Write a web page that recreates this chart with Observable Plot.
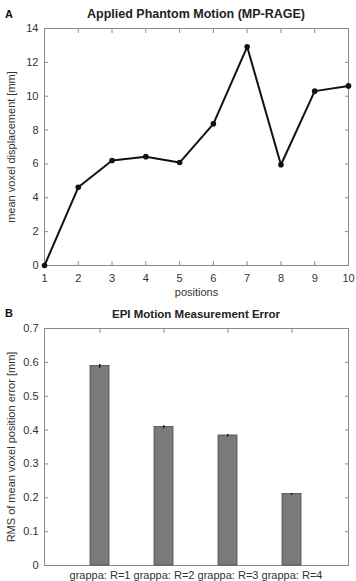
<!DOCTYPE html>
<html><head><meta charset="utf-8">
<script src="https://cdn.jsdelivr.net/npm/d3@7"></script>
<script src="https://cdn.jsdelivr.net/npm/@observablehq/plot@0.6"></script>
<style>
body{margin:0;background:#fff;font-family:"Liberation Sans",Arial,sans-serif;}
#wrap{position:relative;width:356px;height:581px;overflow:hidden;}
.panel{position:absolute;left:0;}
.lbl{position:absolute;font-weight:bold;font-size:11px;color:#111;}
.ttl{position:absolute;font-weight:bold;color:#222;text-align:center;}
</style></head>
<body><div id="wrap">
<div class="panel" id="a" style="top:0"></div>
<div class="panel" id="b" style="top:300px"></div>
<div class="lbl" style="left:5px;top:8px">A</div>
<div class="ttl" style="left:44px;width:304px;top:7px;font-size:12.5px">Applied Phantom Motion (MP-RAGE)</div>
<div class="lbl" style="left:5px;top:307px">B</div>
<div class="ttl" style="left:44px;width:304px;top:308px;font-size:11.5px">EPI Motion Measurement Error</div>
</div>
<script>
const positions = [1,2,3,4,5,6,7,8,9,10];
const displacement = [0, 4.62, 6.2, 6.43, 6.08, 8.37, 12.92, 5.95, 10.3, 10.61];
const yTicksA = [0,2,4,6,8,10,12,14];

const methods = ["grappa: R=1","grappa: R=2","grappa: R=3","grappa: R=4"];
const rmsError = [0.589, 0.409, 0.384, 0.211];
const errBar = [0.004, 0.003, 0.002, 0.001];
const yTicksB = [0,0.1,0.2,0.3,0.4,0.5,0.6,0.7];

const axisColor = "#8a8a8a";
const font = "Liberation Sans, Arial, sans-serif";
const blank = () => "";

const dataA = positions.map((p,i)=>({p, v: displacement[i]}));
const plotA = Plot.plot({
  width: 356, height: 300,
  marginTop: 28, marginBottom: 35, marginLeft: 44, marginRight: 8,
  style: {fontFamily: font, fontSize: "11px", color: "#333", background: "#fff"},
  x: {domain: [1,10], label: null},
  y: {domain: [0,14], label: null},
  marks: [
    Plot.frame({stroke: axisColor}),
    Plot.axisX({ticks: positions, tickSize: -4, tickPadding: 13, stroke: axisColor, fill: "#333", fontSize: 11}),
    Plot.axisX({ticks: positions, anchor: "top", tickSize: -4, tickFormat: blank, stroke: axisColor}),
    Plot.axisY({ticks: yTicksA, tickSize: -4, tickPadding: 10, stroke: axisColor, fill: "#333", fontSize: 11}),
    Plot.axisY({ticks: yTicksA, anchor: "right", tickSize: -4, tickFormat: blank, stroke: axisColor}),
    Plot.line(dataA, {x: "p", y: "v", stroke: "#111", strokeWidth: 2}),
    Plot.dot(dataA, {x: "p", y: "v", r: 2.8, fill: "#111"}),
    Plot.text(["positions"], {x: 5.5, y: 0, text: d=>d, dy: 27, fontSize: 11, fill: "#333"}),
    Plot.text(["mean voxel displacement [mm]"], {frameAnchor: "left", text: d=>d, rotate: -90, textAnchor: "middle", dx: -33, fontSize: 11, fill: "#333"})
  ]
});
document.getElementById("a").append(plotA);

const dataB = methods.map((m,i)=>({m, v: rmsError[i], e: errBar[i]}));
const plotB = Plot.plot({
  width: 356, height: 281,
  marginTop: 28, marginBottom: 16, marginLeft: 44, marginRight: 8,
  style: {fontFamily: font, fontSize: "11px", color: "#333", background: "#fff", overflow: "visible"},
  x: {domain: methods, padding: 0.7, label: null},
  y: {domain: [0,0.7], label: null},
  marks: [
    Plot.frame({stroke: axisColor}),
    Plot.axisX({tickSize: -4, tickPadding: 10, stroke: axisColor, fill: "#333", fontSize: 11}),
    Plot.axisX({anchor: "top", tickSize: -4, tickFormat: blank, stroke: axisColor}),
    Plot.axisY({ticks: yTicksB, tickSize: -4, tickPadding: 10, stroke: axisColor, fill: "#333", fontSize: 11, tickFormat: d => d === 0 ? "0" : d.toFixed(1)}),
    Plot.axisY({ticks: yTicksB, anchor: "right", tickSize: -4, tickFormat: blank, stroke: axisColor}),
    Plot.barY(dataB, {x: "m", y: "v", fill: "#7a7a7a", stroke: "#4a4a4a", strokeWidth: 0.8}),
    Plot.ruleX(dataB, {x: "m", y1: d=>d.v-d.e, y2: d=>d.v+d.e, stroke: "#000", strokeWidth: 1.2}),
    Plot.tickY(dataB, {x: "m", y: d=>d.v+d.e, stroke: "#000", strokeWidth: 1, inset: 9}),
    Plot.tickY(dataB, {x: "m", y: d=>d.v-d.e, stroke: "#000", strokeWidth: 1, inset: 9}),
    Plot.text(["RMS of mean voxel position error [mm]"], {frameAnchor: "left", text: d=>d, rotate: -90, textAnchor: "middle", dx: -33, fontSize: 11, fill: "#333"})
  ]
});
document.getElementById("b").append(plotB);
</script>
</body></html>
